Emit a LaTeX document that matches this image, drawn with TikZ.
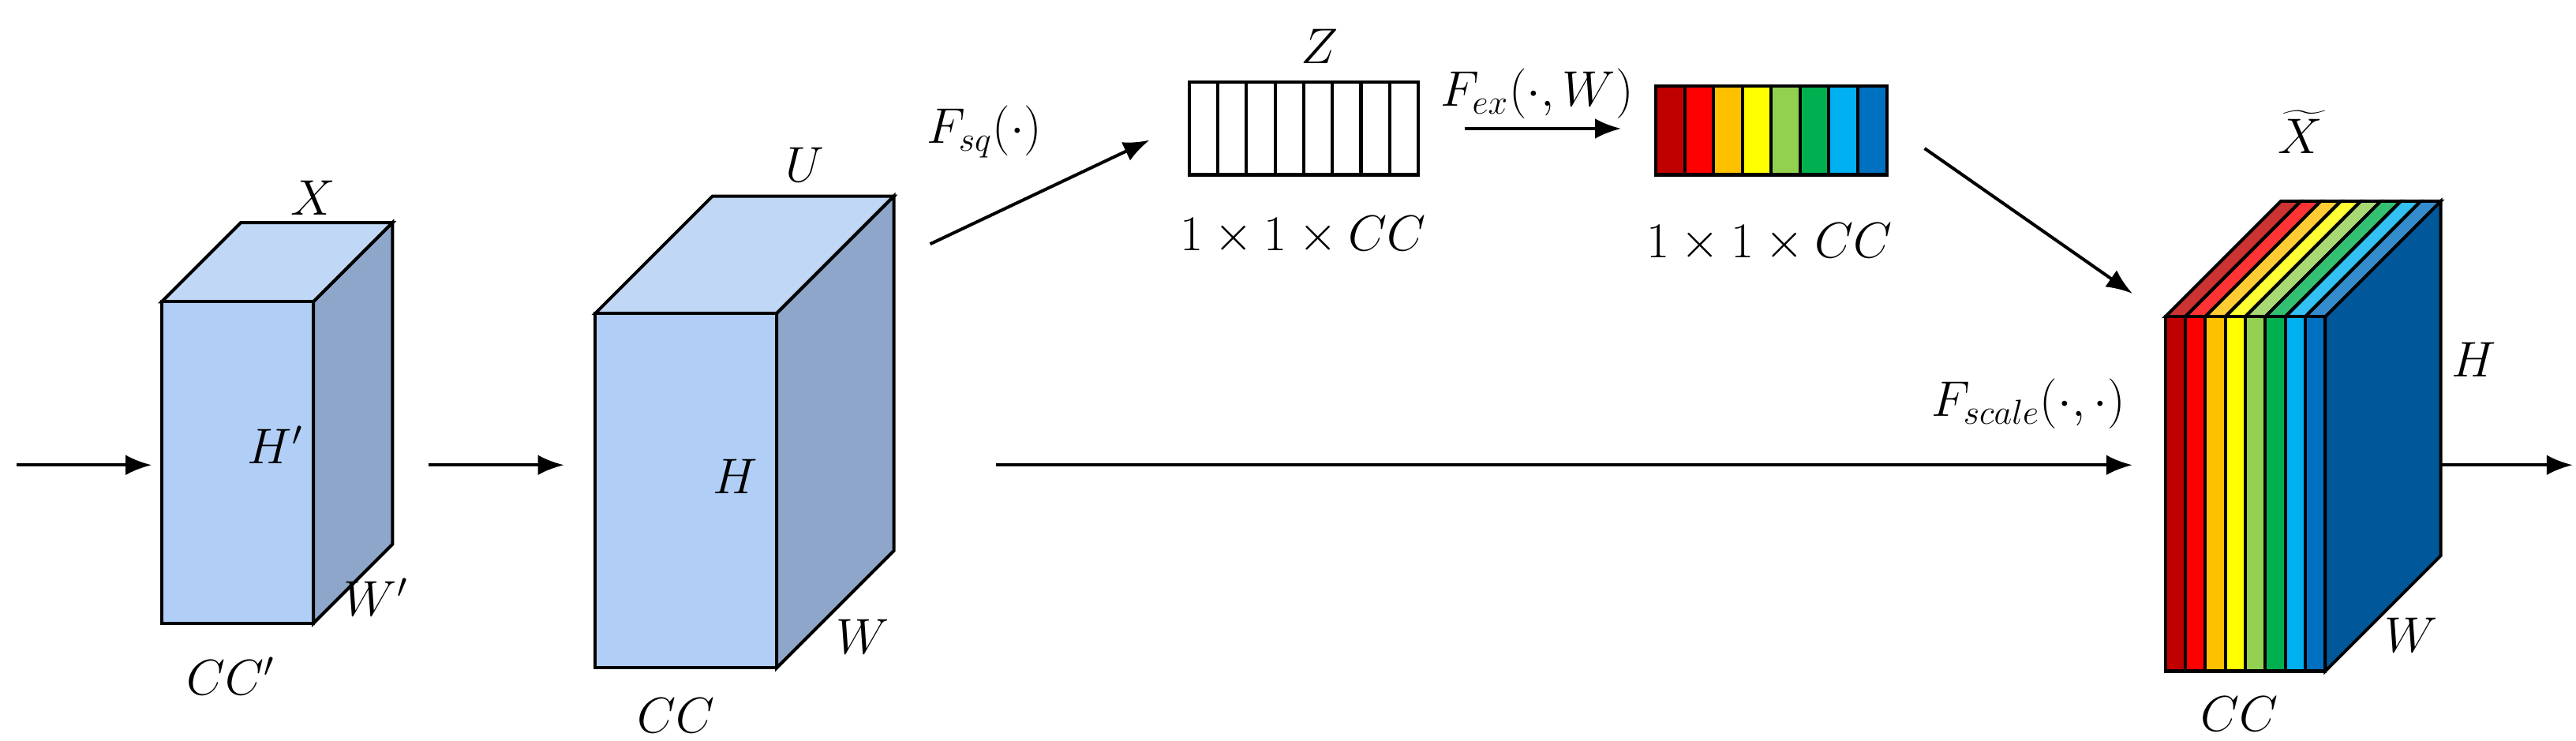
\documentclass[tikz,border=0pt]{standalone}
\usetikzlibrary{arrows.meta}
\definecolor{cfront}{RGB}{176,206,246}
\definecolor{ctop}{RGB}{192,216,246}
\definecolor{cside}{RGB}{142,166,202}
\definecolor{s1}{HTML}{C00000}\definecolor{s2}{HTML}{FF0000}\definecolor{s3}{HTML}{FFC000}\definecolor{s4}{HTML}{FFFF00}
\definecolor{s5}{HTML}{92D050}\definecolor{s6}{HTML}{00B050}\definecolor{s7}{HTML}{00B0F0}\definecolor{s8}{HTML}{0070C0}
\definecolor{cdeep}{HTML}{00589A}
\newcommand\mycube[5]{% x y w h d (y down)
  \filldraw[fill=ctop] (#1,#2) -- ++(#5,-#5) -- ++(#3,0) -- ++(-#5,#5) -- cycle;
  \filldraw[fill=cside] (#1+#3,#2) -- ++(#5,-#5) -- ++(0,#4) -- ++(-#5,#5) -- cycle;
  \filldraw[fill=cfront] (#1,#2) rectangle ++(#3,#4);}
\begin{document}
\begin{tikzpicture}[x=0.02cm,y=-0.02cm,line width=1.1pt,
  arr/.style={-{Latex[length=9pt,width=7pt]}},
  lbl/.style={font=\fontsize{17}{20}\selectfont}]
\useasboundingbox (0,0) rectangle (1562,449);
% coordinates
\coordinate (in0) at (10,282); \coordinate (in1) at (92,282);
\coordinate (a0) at (260,282); \coordinate (a1) at (342,282);
\coordinate (b0) at (564,148); \coordinate (b1) at (697,85);
\coordinate (c0) at (888,78); \coordinate (c1) at (983,78);
\coordinate (d0) at (1167,90); \coordinate (d1) at (1293,178);
\coordinate (e0) at (604,282); \coordinate (e1) at (1293,282);
\coordinate (f0) at (1480,282); \coordinate (f1) at (1560,282);
% cubes
\mycube{98}{183}{92}{195}{48}
\mycube{361}{190}{110}{215}{71}
% Z box
\draw (721,50) rectangle (860,106);
\foreach \i in {1,...,7} \draw (721+\i*17.375,50) -- (721+\i*17.375,106);
% colour box
\foreach \c [count=\i from 0] in {s1,s2,s3,s4,s5,s6,s7,s8}
  \filldraw[fill=\c] (1004+\i*17.5,52) rectangle ++(17.5,54);
\draw (1004,52) rectangle (1144,106);
% final block
\filldraw[fill=cdeep] (1410,192) -- ++(70,-70) -- ++(0,215) -- ++(-70,70) -- cycle;
\foreach \c [count=\i from 0] in {s1,s2,s3,s4,s5,s6,s7,s8}{
  \filldraw[fill=\c!80!white] (1313+\i*12.125,192) -- ++(70,-70) -- ++(12.125,0) -- ++(-70,70) -- cycle;
  \filldraw[fill=\c] (1313+\i*12.125,192) rectangle ++(12.125,215);}
% arrows
\draw[arr] (in0) -- (in1);
\draw[arr] (a0) -- (a1);
\draw[arr] (b0) -- (b1);
\draw[arr] (c0) -- (c1);
\draw[arr] (d0) -- (d1);
\draw[arr] (e0) -- (e1);
\draw[arr] (f0) -- (f1);
% labels
\node[lbl] (lX) at (190,120) {$X$};
\node[lbl] (lH1) at (167,270) {$H'$};
\node[lbl] (lW1) at (228,362) {$W'$};
\node[lbl] (lC1) at (140,410) {$CC'$};
\node[lbl] (lU) at (488,100) {$U$};
\node[lbl] (lH2) at (446,289) {$H$};
\node[lbl] (lW2) at (523,386) {$W$};
\node[lbl] (lC2) at (410,434) {$CC$};
\node[lbl] (lsq) at (597,80) {$F_{sq}(\cdot)$};
\node[lbl] (lZ) at (800,28) {$Z$};
\node[lbl] (ld1) at (790,143) {$1\times1\times CC$};
\node[lbl] (lex) at (932,57) {$F_{ex}(\cdot,W)$};
\node[lbl] (ld2) at (1073,147) {$1\times1\times CC$};
\node[lbl] (lsc) at (1230,245) {$F_{scale}(\cdot,\cdot)$};
\node[lbl] (lXt) at (1395,80) {$\widetilde{X}$};
\node[lbl] (lH3) at (1500,218) {$H$};
\node[lbl] (lW3) at (1462,385) {$W$};
\node[lbl] (lC3) at (1358,433) {$CC$};
\end{tikzpicture}
\end{document}
